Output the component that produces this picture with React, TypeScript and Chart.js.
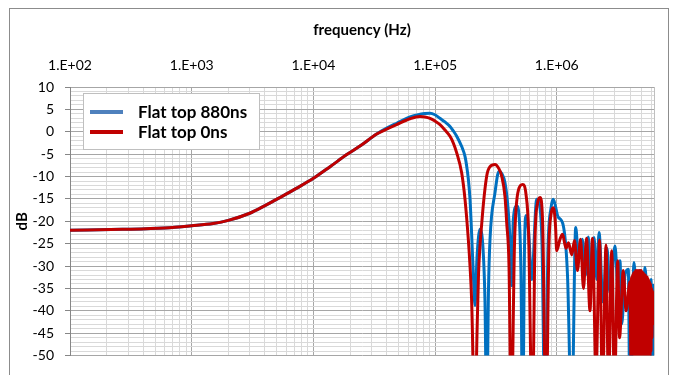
import React, { useEffect, useRef } from 'react';
import { Chart, registerables } from 'chart.js';

Chart.register(...registerables);

// ---- axis setup ----
const X_MIN = 100;
const X_MAX = 6.29e6;
const Y_MIN = -50;
const Y_MAX = 10;
const DECADES = [1e2, 1e3, 1e4, 1e5, 1e6];
const MULTIPLIERS = [1, 2, 3, 4, 5, 6, 7, 8, 9];
const X_TICK_LABELS = ['1.E+02', '1.E+03', '1.E+04', '1.E+05', '1.E+06'];
const X_TITLE = 'frequency (Hz)';
const Y_TITLE = 'dB';
const SERIES_LABELS = ['Flat top 880ns', 'Flat top 0ns'];

// ---- data ----
// shared low-frequency part (both curves coincide)
const SHARED_FREQ = [100, 270, 600, 1000, 1500, 2000, 3000, 4000, 5300, 7300, 10000, 13700, 18800, 25000, 33100];
const SHARED_DB = [-22.0, -21.8, -21.5, -21.0, -20.5, -19.8, -18.2, -16.5, -14.7, -12.6, -10.4, -7.8, -5.1, -2.9, -0.5];

// Flat top 880ns (blue)
const BLUE_FREQ = [
  40000, 48300, 62200, 75150, 82600, 90800, 99700, 109700, 120500, 132600,
  141100, 150500, 165400, 176100, 181800, 187400, 193600, 204900, 212800, 221000,
  233900, 247500, 257000, 265500, 274700, 282600, 310600, 335100, 352600, 375200,
  397200, 412500, 426100, 439100, 468300, 493700, 507800, 524600, 542700, 558400,
  585400, 622100, 683600, 727800, 755800, 800000, 846800, 896300, 935800, 1023000,
  1131000, 1224000, 1326000, 1430000, 1508000, 1620000, 1721000, 1815000, 1921000, 2022000,
  2132000, 2223000, 2397000, 2585000, 2735000, 3008000, 3183000, 3306000, 3414000, 3634000,
  3868000, 3994000, 4309000, 4604000, 4827000, 5060000, 5305000, 5667000, 5943000, 6113000,
  6291000,
];
const BLUE_DB = [
  0.8, 1.9, 3.3, 3.9, 4.1, 4.15, 3.8, 3.0, 2.2, 1.2,
  0.2, -1.0, -3.3, -5.5, -7.7, -10.5, -15.1, -30, -38.8, -28,
  -21.8, -26, -38, -65, -35, -24, -13.6, -8.8, -9.3, -11.4,
  -17, -24, -34.4, -19.6, -16.6, -20.3, -32, -65, -26, -18.7,
  -22, -33, -15.1, -17, -25, -65, -26, -17, -15.1, -19,
  -21, -32, -65, -21.4, -28, -24, -32, -23.5, -35, -23.6,
  -33, -22.5, -38, -26, -36, -25.5, -35, -28.8, -43, -32,
  -30.7, -65, -29.2, -42, -31, -45, -30.3, -42, -33, -65,
  -34,
];

// Flat top 0ns (red)
const RED_FREQ = [
  40000, 48300, 62200, 75150, 82600, 90800, 99700, 109700, 120500, 132600,
  141100, 150500, 165400, 176100, 187400, 193600, 199200, 212800, 221000, 227300,
  242000, 265500, 282600, 310600, 335100, 352600, 375200, 387500, 404800, 422900,
  449200, 484500, 524600, 558400, 585400, 629300, 662200, 694100, 727800, 764300,
  815400, 862900, 896300, 939700, 975800, 998000, 1062000, 1114000, 1190000, 1248000,
  1326000, 1398000, 1479000, 1566000, 1657000, 1754000, 1874000, 1965000, 2100000, 2244000,
  2374000, 2537000, 2659000, 2825000, 2980000, 3165000, 3275000, 3519000, 3704000, 3994000,
  4071000, 4110000, 4149000, 4188000, 4228000, 4268000, 4309000, 4350000, 4391000, 4433000,
  4475000, 4518000, 4560000, 4604000, 4648000, 4692000, 4736000, 4781000, 4827000, 4873000,
  4919000, 4966000, 5012000, 5060000, 5108000, 5157000, 5206000, 5255000, 5305000, 5356000,
  5406000, 5458000, 5509000, 5562000, 5614000, 5667000, 5722000, 5776000, 5831000, 5886000,
  5943000, 5999000, 6056000, 6113000, 6171000, 6230000, 6291000,
];
const RED_DB = [
  0.6, 1.6, 2.9, 3.4, 3.3, 3.0, 2.4, 1.6, 0.4, -1.0,
  -2.5, -4.7, -9.2, -15.1, -24, -30, -37, -65, -45, -32,
  -20.3, -9.9, -7.8, -7.3, -8.3, -9.9, -14.5, -20.3, -30, -65,
  -25, -13, -11.8, -14, -22, -65, -24, -16, -14.7, -20,
  -65, -25, -18.5, -17, -21, -26.6, -24, -22.9, -26.0, -24.8,
  -27.5, -24.3, -31, -24, -35, -23.8, -40, -23.8, -54, -24.2,
  -58, -25.3, -58, -26.6, -58, -28.8, -46, -31, -40, -33.5,
  -52, -32.5, -55, -32, -56, -31.5, -56, -31.5, -56, -31,
  -56, -31, -56, -31, -56, -31, -56, -31, -56, -31,
  -56, -31, -56, -31.5, -56, -31.5, -56, -32, -56, -32,
  -55, -32.5, -55, -32.5, -54, -33, -53, -33.5, -52, -34,
  -49, -35, -46, -35.5, -43, -36, -40,
];

const BLUE = '#0070C0';
const RED = '#C00000';
const LEGEND_COLORS = ['#4F81BD', '#C00000'];

const FONT = 'Lato, "Liberation Sans", sans-serif';

function toPoints(fx: number[], fy: number[]) {
  return fx.map((x, i) => ({ x, y: fy[i] }));
}

function isDecade(v: number) {
  const e = Math.round(Math.log10(v));
  return Math.abs(v - Math.pow(10, e)) < 1e-6 * v;
}

const X_TICKS: number[] = [];
DECADES.forEach((d) => MULTIPLIERS.forEach((m) => { const v = d * m; if (v <= X_MAX) X_TICKS.push(v); }));

const framePlugin = {
  id: 'frame',
  beforeDraw(chart: any) {
    const { ctx } = chart;
    ctx.save();
    ctx.fillStyle = '#ffffff';
    ctx.fillRect(0, 0, chart.width, chart.height);
    ctx.strokeStyle = '#8c8c8c';
    ctx.lineWidth = 1;
    ctx.strokeRect(9.5, 8.5, 659, 420);
    ctx.restore();
  },
  beforeDatasetsDraw(chart: any) {
    const { ctx, chartArea } = chart;
    ctx.save();
    ctx.strokeStyle = '#bfbfbf';
    ctx.lineWidth = 1;
    ctx.beginPath();
    ctx.moveTo(Math.round(chartArea.right) + 0.5, chartArea.top);
    ctx.lineTo(Math.round(chartArea.right) + 0.5, chartArea.bottom);
    ctx.stroke();
    ctx.restore();
  },
  afterDraw(chart: any) {
    const { ctx } = chart;
    ctx.save();
    ctx.fillStyle = '#ffffff';
    ctx.fillRect(83.5, 93.5, 176, 56);
    ctx.strokeStyle = '#bfbfbf';
    ctx.lineWidth = 1;
    ctx.strokeRect(83.5, 93.5, 176, 56);
    chart.data.datasets.forEach((ds: any, i: number) => {
      const y = 112 + i * 20;
      ctx.strokeStyle = LEGEND_COLORS[i];
      ctx.lineWidth = 4;
      ctx.beginPath();
      ctx.moveTo(90, y);
      ctx.lineTo(123, y);
      ctx.stroke();
      ctx.fillStyle = '#000000';
      ctx.font = 'bold 17px ' + FONT;
      ctx.textBaseline = 'middle';
      ctx.textAlign = 'left';
      ctx.fillText(ds.label, 138, y + 1);
    });
    ctx.restore();
  },
};

export default function App() {
  const ref = useRef<HTMLCanvasElement | null>(null);
  useEffect(() => {
    if (!ref.current) return;
    const chart = new Chart(ref.current, {
      type: 'line',
      data: {
        datasets: [
          {
            label: SERIES_LABELS[0],
            data: toPoints([...SHARED_FREQ, ...BLUE_FREQ], [...SHARED_DB, ...BLUE_DB]),
            borderColor: BLUE,
            borderWidth: 3,
            pointRadius: 0,
            cubicInterpolationMode: 'monotone',
            borderJoinStyle: 'round',
            clip: 0,
            order: 1,
          },
          {
            label: SERIES_LABELS[1],
            data: toPoints([...SHARED_FREQ, ...RED_FREQ], [...SHARED_DB, ...RED_DB]),
            borderColor: RED,
            borderWidth: 3,
            pointRadius: 0,
            cubicInterpolationMode: 'monotone',
            borderJoinStyle: 'round',
            clip: 0,
            order: 0,
          },
        ],
      },
      options: {
        animation: false,
        responsive: false,
        parsing: true,
        layout: { padding: { left: 0, right: 24, top: 0, bottom: 18 } },
        plugins: { legend: { display: false }, tooltip: { enabled: false } },
        scales: {
          x: {
            type: 'logarithmic',
            position: 'top',
            min: X_MIN,
            max: X_MAX,
            afterBuildTicks: (scale: any) => {
              scale.ticks = X_TICKS.map((v) => ({ value: v, major: isDecade(v) }));
            },
            afterFit: (scale: any) => { scale.height = 87; },
            ticks: {
              autoSkip: false,
              maxRotation: 0,
              padding: 13,
              color: '#000000',
              font: { family: FONT, size: 14 },
              callback: (v: any) => {
                const val = Number(v);
                if (!isDecade(val)) return '';
                const idx = DECADES.findIndex((d) => Math.abs(d - val) < 1e-6 * d);
                return idx >= 0 ? X_TICK_LABELS[idx] : '';
              },
            },
            grid: {
              drawTicks: false,
              color: (ctx: any) => (ctx.tick && isDecade(ctx.tick.value) ? '#a6a6a6' : '#d9d9d9'),
            },
            border: { display: false },
            title: {
              display: true,
              text: X_TITLE,
              color: '#000000',
              font: { family: FONT, size: 15, weight: 'bold' },
              padding: { top: 21, bottom: 0 },
            },
          },
          y: {
            type: 'linear',
            min: Y_MIN,
            max: Y_MAX,
            afterFit: (scale: any) => { scale.width = 70; },
            ticks: {
              stepSize: 1,
              autoSkip: false,
              padding: 11,
              color: '#000000',
              font: { family: FONT, size: 14 },
              callback: (v: any) => (Number(v) % 5 === 0 ? String(v) : ''),
            },
            grid: {
              drawTicks: true,
              tickLength: 5,
              color: (ctx: any) => (ctx.tick && ctx.tick.value % 5 === 0 ? '#a6a6a6' : '#d9d9d9'),
              tickColor: (ctx: any) => (ctx.tick && ctx.tick.value % 5 === 0 ? '#868686' : 'rgba(0,0,0,0)'),
            },
            border: { display: true, color: '#868686' },
            title: {
              display: true,
              text: Y_TITLE,
              color: '#000000',
              font: { family: FONT, size: 15, weight: 'bold' },
              padding: { top: 13, bottom: 0 },
            },
          },
        },
      } as any,
      plugins: [framePlugin],
    });
    return () => chart.destroy();
  }, []);
  return (
    <div style={{ position: 'absolute', left: 0, top: 0, width: 678, height: 375 }}>
      <canvas ref={ref} width={678} height={375} style={{ width: 678, height: 375, display: 'block' }} />
    </div>
  );
}
